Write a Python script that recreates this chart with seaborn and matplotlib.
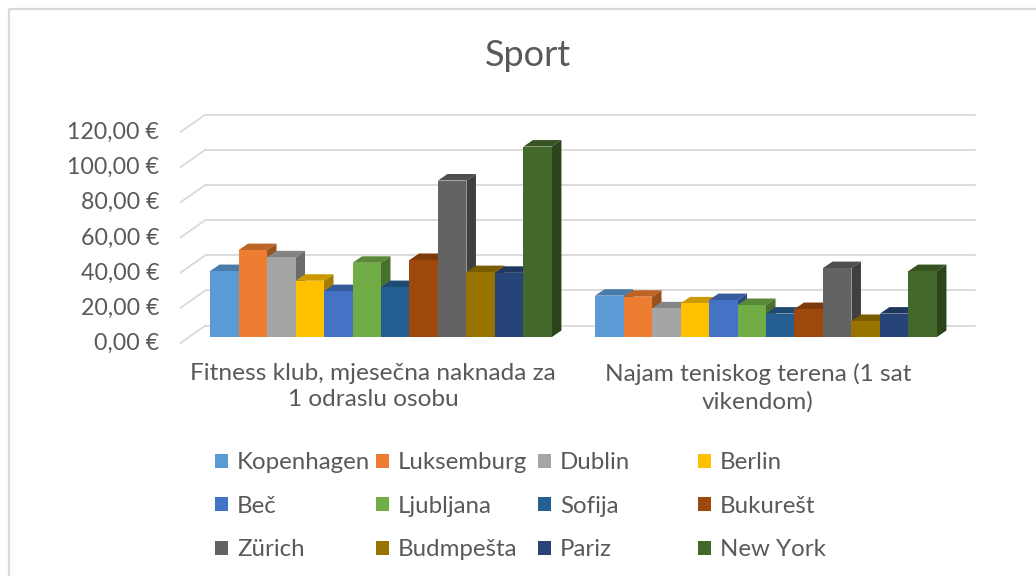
import matplotlib
matplotlib.use("Agg")
import matplotlib.pyplot as plt
from matplotlib.lines import Line2D
from matplotlib.patches import Polygon
from matplotlib.transforms import ScaledTranslation
from matplotlib.colors import to_rgb
import pandas as pd
import seaborn as sns

title = "Sport"
categories = ["Fitness klub, mjesečna naknada za\n1 odraslu osobu",
              "Najam teniskog terena (1 sat\nvikendom)"]
cities = ["Kopenhagen", "Luksemburg", "Dublin", "Berlin", "Beč", "Ljubljana",
          "Sofija", "Bukurešt", "Zürich", "Budmpešta", "Pariz", "New York"]
fitness = [37.5, 49.4, 45.3, 32.0, 26.1, 42.2, 28.4, 43.8, 89.0, 36.9, 36.5, 108.3]
tennis = [23.5, 22.9, 16.3, 19.1, 21.0, 18.2, 13.3, 15.9, 39.2, 9.1, 13.3, 37.5]
colors = ["#5B9BD5", "#ED7D31", "#A5A5A5", "#FFC000", "#4472C4", "#70AD47",
          "#255E91", "#9E480E", "#636363", "#997300", "#264478", "#43682B"]
y_ticks = [0, 20, 40, 60, 80, 100, 120]
y_labels = ["0,00 €", "20,00 €", "40,00 €", "60,00 €", "80,00 €", "100,00 €", "120,00 €"]

W, H = 1036, 576
TEXT = "#595959"
GRID = "#D9D9D9"
FONT = "Lato"
sns.set_theme(style="white")
plt.rcParams["font.family"] = [FONT, "DejaVu Sans"]

df = pd.DataFrame({
    "category": [categories[0]] * len(cities) + [categories[1]] * len(cities),
    "city": cities * 2,
    "value": fitness + tennis,
})

fig = plt.figure(figsize=(W / 100, H / 100), dpi=100, facecolor="white")
ax = fig.add_axes([188.5 / W, 1 - 337 / H, 770 / W, 211 / H])
ax.patch.set_alpha(0)
sns.barplot(data=df, x="category", y="value", hue="city", hue_order=cities,
            palette=colors, saturation=1, width=0.888, gap=0, linewidth=0,
            ax=ax, errorbar=None)
handles, labels = ax.get_legend_handles_labels()
ax.get_legend().remove()
ax.set_xlim(-0.5, 1.5)
ax.set_ylim(0, 120)
ax.set_xlabel("")
ax.set_ylabel("")
sns.despine(ax=ax, left=True, bottom=True)

ux = 2 / 770      # data units per pixel
uy = 120 / 211


def shade(color, k):
    return tuple(c * k for c in to_rgb(color))


# depth faces derived from the bars drawn by seaborn
depth_x, depth_y = 9.5 * ux, 6.5 * uy
for i, cont in enumerate(ax.containers):
    for bar in cont:
        x0, w, h = bar.get_x(), bar.get_width(), bar.get_height()
        bar.set_zorder(3 + i + 0.5)
        ax.add_patch(Polygon([(x0, h), (x0 + w, h), (x0 + w + depth_x, h + depth_y),
                              (x0 + depth_x, h + depth_y)],
                             closed=True, fc=shade(colors[i], 0.8), ec="none",
                             zorder=3 + i, clip_on=False))
        ax.add_patch(Polygon([(x0 + w, 0), (x0 + w + depth_x, depth_y),
                              (x0 + w + depth_x, h + depth_y), (x0 + w, h)],
                             closed=True, fc=shade(colors[i], 0.65), ec="none",
                             zorder=3 + i, clip_on=False))

# 3D wall gridlines
back_x, back_y = 17 * ux, 11.5 * uy
front_x, front_y = -8 * ux, -6 * uy
for t in y_ticks:
    ax.plot([-0.5 + back_x, 1.5 + back_x], [t + back_y, t + back_y], color=GRID,
            lw=1.3, zorder=1, clip_on=False)
    ax.plot([-0.5 + front_x, -0.5 + back_x], [t + front_y, t + back_y], color=GRID,
            lw=1.3, zorder=1, clip_on=False)

# ticks
ax.set_yticks(y_ticks, y_labels)
ax.set_xticks([0, 1], categories)
ax.tick_params(axis="y", length=0, pad=21, labelsize=16.7, labelcolor=TEXT)
ax.tick_params(axis="x", length=0, pad=18.5, labelsize=17.6, labelcolor=TEXT)
for lab in ax.get_yticklabels():
    lab.set_transform(lab.get_transform() + ScaledTranslation(0, -4.5 / 100, fig.dpi_scale_trans))
for lab in ax.get_xticklabels():
    lab.set_linespacing(1.33)
    lab.set_transform(lab.get_transform() + ScaledTranslation(-8 / 100, 0, fig.dpi_scale_trans))

# title
fig.text(528 / W, 1 - 55 / H, title, ha="center", va="center", fontsize=26,
         color=TEXT)

# legend: four equal columns, filled row by row
col_x = [208, 369, 531, 691]
for c, x in enumerate(col_x):
    leg = fig.legend(handles[c::4], labels[c::4], loc="upper left",
                     bbox_to_anchor=(x / W, 1 - 445 / H), frameon=False,
                     fontsize=17.3, handlelength=0.54, handleheight=0.54,
                     handletextpad=0.37, labelspacing=0.94, borderpad=0.3,
                     borderaxespad=0, labelcolor=TEXT)

# chart frame
fig.add_artist(Line2D([8.5 / W, 8.5 / W, 1], [0, 1 - 9 / H, 1 - 9 / H], color=GRID,
                      lw=1.6, transform=fig.transFigure))

fig.savefig("out.png", dpi=100)
